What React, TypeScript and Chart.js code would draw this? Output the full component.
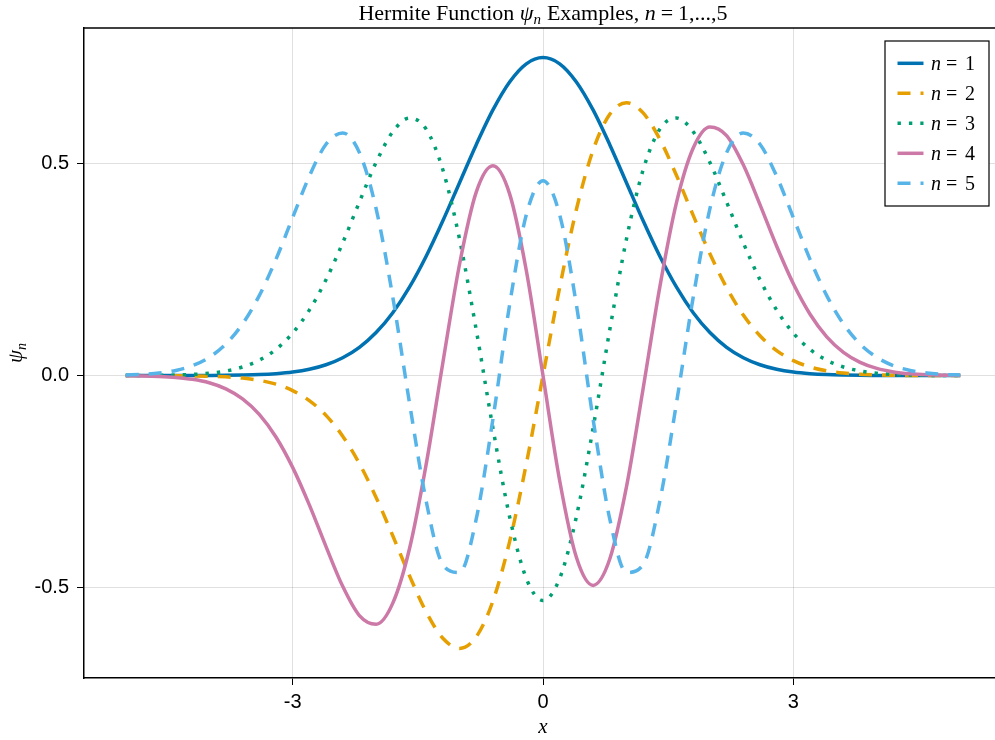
import React, { useEffect, useRef } from "react";
import { Chart, registerables } from "chart.js";
Chart.register(...registerables);

const X_VALUES = [-5, -4.8, -4.6, -4.4, -4.2, -4, -3.8, -3.6, -3.4, -3.2, -3, -2.8, -2.6, -2.4, -2.2, -2, -1.8, -1.6, -1.4, -1.2, -1, -0.8, -0.6, -0.4, -0.2, 0, 0.2, 0.4, 0.6, 0.8, 1, 1.2, 1.4, 1.6, 1.8, 2, 2.2, 2.4, 2.6, 2.8, 3, 3.2, 3.4, 3.6, 3.8, 4, 4.2, 4.4, 4.6, 4.8, 5];

const PSI_1 = [0, 0, 0, 0, 0.0001, 0.0003, 0.0006, 0.0012, 0.0023, 0.0045, 0.0083, 0.0149, 0.0256, 0.0422, 0.0668, 0.1017, 0.1486, 0.2088, 0.2819, 0.3656, 0.4556, 0.5454, 0.6274, 0.6934, 0.7363, 0.7511, 0.7363, 0.6934, 0.6274, 0.5454, 0.4556, 0.3656, 0.2819, 0.2088, 0.1486, 0.1017, 0.0668, 0.0422, 0.0256, 0.0149, 0.0083, 0.0045, 0.0023, 0.0012, 0.0006, 0.0003, 0.0001, 0, 0, 0, 0];

const PSI_2 = [0, 0, -0.0001, -0.0003, -0.0007, -0.0014, -0.003, -0.0059, -0.0112, -0.0203, -0.0354, -0.059, -0.094, -0.1431, -0.2078, -0.2877, -0.3783, -0.4725, -0.5581, -0.6204, -0.6443, -0.617, -0.5324, -0.3922, -0.2083, 0, 0.2083, 0.3922, 0.5324, 0.617, 0.6443, 0.6204, 0.5581, 0.4725, 0.3783, 0.2877, 0.2078, 0.1431, 0.094, 0.059, 0.0354, 0.0203, 0.0112, 0.0059, 0.003, 0.0014, 0.0007, 0.0003, 0.0001, 0, 0];

const PSI_3 = [0.0001, 0.0002, 0.0006, 0.0013, 0.0027, 0.0055, 0.0108, 0.0203, 0.0363, 0.0618, 0.1003, 0.1547, 0.2264, 0.3136, 0.4099, 0.5034, 0.5758, 0.6083, 0.5821, 0.486, 0.3222, 0.108, -0.1242, -0.3334, -0.479, -0.5311, -0.479, -0.3334, -0.1242, 0.108, 0.3222, 0.486, 0.5821, 0.6083, 0.5758, 0.5034, 0.4099, 0.3136, 0.2264, 0.1547, 0.1003, 0.0618, 0.0363, 0.0203, 0.0108, 0.0055, 0.0027, 0.0013, 0.0006, 0.0002, 0.0001];

const PSI_4 = [-0.0004, -0.0009, -0.002, -0.0043, -0.0087, -0.0169, -0.0312, -0.0549, -0.0916, -0.145, -0.2168, -0.3054, -0.4038, -0.4977, -0.5667, -0.5872, -0.5374, -0.4089, -0.2096, 0.0304, 0.263, 0.4333, 0.4955, 0.4292, 0.2483, 0, -0.2483, -0.4292, -0.4955, -0.4333, -0.263, -0.0304, 0.2096, 0.4089, 0.5374, 0.5872, 0.5667, 0.4977, 0.4038, 0.3054, 0.2168, 0.145, 0.0916, 0.0549, 0.0312, 0.0169, 0.0087, 0.0043, 0.002, 0.0009, 0.0004];

const PSI_5 = [0.0013, 0.0028, 0.006, 0.0122, 0.0234, 0.043, 0.0745, 0.1221, 0.1889, 0.2745, 0.373, 0.4708, 0.5463, 0.5731, 0.5265, 0.3944, 0.1853, -0.0642, -0.2965, -0.4467, -0.465, -0.3386, -0.1027, 0.1674, 0.3797, 0.46, 0.3797, 0.1674, -0.1027, -0.3386, -0.465, -0.4467, -0.2965, -0.0642, 0.1853, 0.3944, 0.5265, 0.5731, 0.5463, 0.4708, 0.373, 0.2745, 0.1889, 0.1221, 0.0745, 0.043, 0.0234, 0.0122, 0.006, 0.0028, 0.0013];

const SERIES = [PSI_1, PSI_2, PSI_3, PSI_4, PSI_5];
const SERIES_LABELS = ["1", "2", "3", "4", "5"];
const X_TICKS = [-3, 0, 3];
const Y_TICKS = [-0.5, 0, 0.5];

const COLORS = ["#0072B2", "#E69F00", "#009E73", "#CC79A7", "#56B4E9"];
const DASHES: number[][] = [[], [13, 10], [3.4, 8], [], [13, 10]];

const SERIF = '"Liberation Serif", "DejaVu Serif", serif';
const SANS = '"Liberation Sans", Arial, sans-serif';

type Run = { t: string; f: string; dy?: number; gap?: number };

function drawRuns(ctx: CanvasRenderingContext2D, runs: Run[], x: number, y: number, center: boolean) {
  let total = 0;
  const widths = runs.map((r) => {
    ctx.font = r.f;
    const w = ctx.measureText(r.t).width + (r.gap || 0);
    total += w;
    return w;
  });
  let cx = center ? x - total / 2 : x;
  runs.forEach((r, i) => {
    ctx.font = r.f;
    ctx.fillText(r.t, cx, y + (r.dy || 0));
    cx += widths[i];
  });
}

const decorPlugin = {
  id: "decor",
  afterDraw(chart: any) {
    const ctx: CanvasRenderingContext2D = chart.ctx;
    const a = chart.chartArea;
    ctx.save();
    // top spine
    ctx.strokeStyle = "#000";
    ctx.lineWidth = 1.5;
    ctx.beginPath();
    ctx.moveTo(a.left, a.top);
    ctx.lineTo(a.right, a.top);
    ctx.stroke();

    ctx.fillStyle = "#000";
    ctx.textAlign = "left";
    ctx.textBaseline = "alphabetic";
    const reg = `22px ${SERIF}`;
    const it = `italic 22px ${SERIF}`;
    // title
    drawRuns(
      ctx,
      [
        { t: "Hermite Function ", f: reg },
        { t: "ψ", f: it },
        { t: "n", f: `italic 15px ${SERIF}`, dy: 4, gap: 6 },
        { t: "Examples, ", f: reg },
        { t: "n", f: it, gap: 5 },
        { t: "=", f: reg, gap: 5 },
        { t: "1,...,5", f: reg },
      ],
      (a.left + a.right) / 2,
      19.5,
      true
    );
    // x label
    drawRuns(ctx, [{ t: "x", f: `italic 21px ${SERIF}` }], (a.left + a.right) / 2, 733, true);
    // y label
    ctx.save();
    ctx.translate(22, (a.top + a.bottom) / 2);
    ctx.rotate(-Math.PI / 2);
    drawRuns(
      ctx,
      [
        { t: "ψ", f: `italic 21px ${SERIF}` },
        { t: "n", f: `italic 14px ${SERIF}`, dy: 4 },
      ],
      0,
      0,
      true
    );
    ctx.restore();

    // legend
    const bx = 885, by = 41, bw = 104, bh = 165;
    ctx.fillStyle = "#fff";
    ctx.fillRect(bx, by, bw, bh);
    ctx.strokeStyle = "#000";
    ctx.lineWidth = 1.2;
    ctx.strokeRect(bx, by, bw, bh);
    SERIES_LABELS.forEach((lab, i) => {
      const cy = 63.3 + 30 * i;
      ctx.save();
      ctx.strokeStyle = COLORS[i];
      ctx.lineWidth = 3.5;
      ctx.lineCap = "butt";
      ctx.setLineDash(DASHES[i]);
      ctx.beginPath();
      ctx.moveTo(897.5, cy);
      ctx.lineTo(923.5, cy);
      ctx.stroke();
      ctx.restore();
      ctx.fillStyle = "#000";
      ctx.font = `italic 20px ${SERIF}`;
      ctx.fillText("n", 931, cy + 6.5);
      ctx.font = `20px ${SERIF}`;
      ctx.fillText("=", 946, cy + 6.5);
      ctx.fillText(lab, 965, cy + 6.5);
    });
    ctx.restore();
  },
};

export default function App() {
  const ref = useRef<HTMLCanvasElement>(null);
  useEffect(() => {
    const chart = new Chart(ref.current as HTMLCanvasElement, {
      type: "line",
      data: {
        datasets: SERIES.map((ys, i) => ({
          label: "n = " + SERIES_LABELS[i],
          data: X_VALUES.map((x, j) => ({ x, y: ys[j] })),
          borderColor: COLORS[i],
          backgroundColor: COLORS[i],
          borderWidth: 3.5,
          borderDash: DASHES[i],
          pointRadius: 0,
          fill: false,
          cubicInterpolationMode: "monotone",
          order: 4 - i,
        })),
      },
      options: {
        animation: false,
        responsive: false,
        devicePixelRatio: 1,
        layout: { padding: { top: 28, right: 8, left: 0, bottom: 0 } },
        plugins: { legend: { display: false }, tooltip: { enabled: false }, title: { display: false } },
        scales: {
          x: {
            type: "linear",
            min: -5.5,
            max: 5.5,
            afterBuildTicks: (s: any) => {
              s.ticks = X_TICKS.map((v) => ({ value: v }));
            },
            afterFit: (s: any) => {
              s.height = 62;
            },
            grid: { color: "rgba(0,0,0,0.12)", lineWidth: 1, tickColor: "#000", tickLength: 7, tickWidth: 1 },
            border: { display: true, color: "#000", width: 1.5 },
            ticks: {
              font: { family: SANS, size: 20 },
              color: "#000",
              padding: 5,
              maxRotation: 0,
              callback: (v: any) => String(v),
            },
          },
          y: {
            type: "linear",
            min: -0.7142,
            max: 0.8209,
            afterBuildTicks: (s: any) => {
              s.ticks = Y_TICKS.map((v) => ({ value: v }));
            },
            afterFit: (s: any) => {
              s.width = 84;
            },
            grid: { color: "rgba(0,0,0,0.12)", lineWidth: 1, tickColor: "#000", tickLength: 7, tickWidth: 1 },
            border: { display: true, color: "#000", width: 1.5 },
            ticks: {
              font: { family: SANS, size: 20 },
              color: "#000",
              padding: 8,
              callback: (v: any) => Number(v).toFixed(1),
            },
          },
        },
      },
      plugins: [decorPlugin],
    } as any);
    return () => chart.destroy();
  }, []);
  return (
    <div style={{ position: "absolute", left: 0, top: 0, width: 995, height: 740, overflow: "hidden", background: "#fff" }}>
      <canvas ref={ref} width={1010} height={740} style={{ display: "block", width: 1010, height: 740 }} />
    </div>
  );
}
